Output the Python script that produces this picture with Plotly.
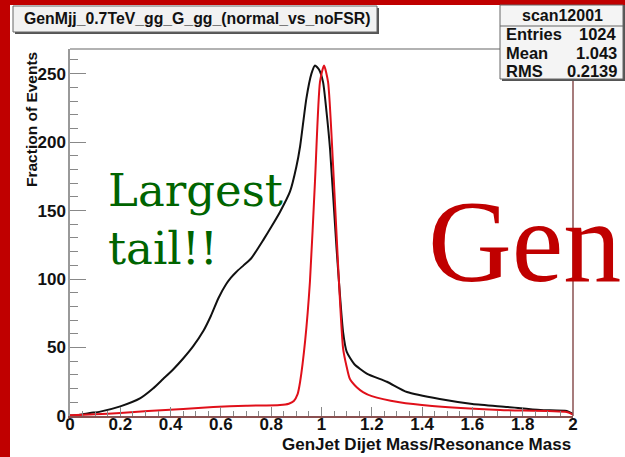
import plotly.graph_objects as go

# ---------------- data ----------------
x_normal = [0.0, 0.04, 0.08, 0.12, 0.2, 0.28, 0.33, 0.37, 0.41, 0.45, 0.49, 0.53, 0.56, 0.59,
            0.62, 0.64, 0.66, 0.69, 0.72, 0.77, 0.80, 0.835, 0.875, 0.90, 0.915, 0.94, 0.96, 0.974,
            0.99, 1.006, 1.02, 1.034, 1.06, 1.086, 1.10, 1.13, 1.18, 1.26, 1.34, 1.47, 1.6,
            1.74, 1.87, 1.975, 2.0]
y_normal = [0.3, 1.0, 2.2, 3.2, 7.0, 13, 20, 27, 34, 42, 51, 62, 73, 86,
            96, 101, 105, 110, 115, 129, 138, 149, 164, 182, 197, 232, 250, 256,
            253, 244, 222, 195, 122, 61, 47, 38, 31, 25, 17.5, 12.4, 8.8,
            6.6, 4.4, 3.6, 1.5]

x_nofsr = [0.0, 0.1, 0.2, 0.31, 0.45, 0.57, 0.7, 0.835, 0.87, 0.89, 0.905, 0.915, 0.935, 0.954,
           0.974, 0.994, 1.01, 1.026, 1.046, 1.066, 1.086, 1.10, 1.113, 1.14, 1.165, 1.2,
           1.31, 1.44, 1.71, 1.975, 2.0]
y_nofsr = [0.5, 1.2, 2.2, 3.6, 5.2, 6.6, 7.5, 8.0, 9.0, 11, 16, 25, 55, 98,
           171, 244, 256, 244, 183, 110, 49, 36, 27, 21, 17.5, 14.5,
           10, 7.3, 4.4, 2.9, 1.0]

stats_labels = ["Entries", "Mean", "RMS"]
stats_values = ["1024", "1.043", "0.2139"]
stats_title = "scan12001"
hist_title = "GenMjj_0.7TeV_gg_G_gg_(normal_vs_noFSR)"

# ---------------- layout geometry (pixels) ----------------
W, H = 625, 457
L, R, T, B = 70, 573, 49, 416


def px(x):
    return (x - L) / (R - L)


def py(y):
    return (B - y) / (B - T)


fig = go.Figure()
fig.add_trace(go.Scatter(x=x_normal, y=y_normal, mode="lines",
                         line=dict(color="#111111", width=2, shape="spline", smoothing=0.6),
                         showlegend=False, hoverinfo="skip"))
fig.add_trace(go.Scatter(x=x_nofsr, y=y_nofsr, mode="lines",
                         line=dict(color="#e0101a", width=2, shape="spline", smoothing=0.6),
                         showlegend=False, hoverinfo="skip"))

tickfont = dict(family="Liberation Sans", size=17, color="#111111", weight="bold")
fig.update_layout(
    width=W, height=H,
    margin=dict(l=L, r=W - R, t=T, b=H - B),
    paper_bgcolor="white", plot_bgcolor="white",
    xaxis=dict(range=[0, 2], dtick=0.2, tick0=0, ticks="inside", ticklen=9, tickcolor="#888888",
               showline=True, linecolor="#8a5050", linewidth=1.5, mirror=False, showgrid=False,
               zeroline=False, tickfont=tickfont, ticklabelstandoff=-8,
               minor=dict(dtick=0.05, ticks="inside", ticklen=5, tickcolor="#888888")),
    yaxis=dict(range=[0, 268], dtick=50, tick0=0, ticks="inside", ticklen=16, tickcolor="#888888",
               showline=True, linecolor="#999999", linewidth=1.5, mirror=False, showgrid=False,
               zeroline=False, tickfont=tickfont, ticklabelstandoff=-1,
               minor=dict(dtick=10, ticks="inside", ticklen=8, tickcolor="#888888")),
)

shapes = []
# top frame line and right frame line
shapes.append(dict(type="line", xref="paper", yref="paper", x0=0, x1=1, y0=1, y1=1,
                   line=dict(color="#999999", width=1.5)))
shapes.append(dict(type="line", xref="paper", yref="paper", x0=1, x1=1, y0=0, y1=1,
                   line=dict(color="#8a5050", width=1.5)))
# red page border (left strip + top strip)
shapes.append(dict(type="rect", xref="paper", yref="paper", x0=px(0), x1=px(10), y0=py(H), y1=py(0),
                   fillcolor="#c00000", line=dict(width=0), layer="above"))
shapes.append(dict(type="rect", xref="paper", yref="paper", x0=px(0), x1=px(W), y0=py(5), y1=py(0),
                   fillcolor="#c00000", line=dict(width=0), layer="above"))
# title box with shadow
shapes.append(dict(type="rect", xref="paper", yref="paper", x0=px(15), x1=px(379), y0=py(34), y1=py(8),
                   fillcolor="#555555", line=dict(width=0), layer="above"))
shapes.append(dict(type="rect", xref="paper", yref="paper", x0=px(13), x1=px(377), y0=py(32), y1=py(6),
                   fillcolor="#f2f2f2", line=dict(color="#666666", width=1), layer="above"))
# stats box with shadow
shapes.append(dict(type="rect", xref="paper", yref="paper", x0=px(502), x1=px(625), y0=py(81), y1=py(5),
                   fillcolor="#555555", line=dict(width=0), layer="above"))
shapes.append(dict(type="rect", xref="paper", yref="paper", x0=px(500), x1=px(623), y0=py(79), y1=py(5),
                   fillcolor="#f4f4f4", line=dict(color="#666666", width=1), layer="above"))
shapes.append(dict(type="line", xref="paper", yref="paper", x0=px(500), x1=px(623), y0=py(26), y1=py(26),
                   line=dict(color="#666666", width=1), layer="above"))
fig.update_layout(shapes=shapes)

ann = []
bold = dict(family="Liberation Sans", color="#111111", weight="bold")
ann.append(dict(text=hist_title, xref="paper", yref="paper", x=px(197), y=py(19),
                xanchor="center", yanchor="middle", showarrow=False,
                font=dict(size=15.8, **bold)))
ann.append(dict(text=stats_title, xref="paper", yref="paper", x=px(562), y=py(16),
                xanchor="center", yanchor="middle", showarrow=False, font=dict(size=16, **bold)))
rows_y = [34, 53, 71]
for lab, val, yy in zip(stats_labels, stats_values, rows_y):
    ann.append(dict(text=lab, xref="paper", yref="paper", x=px(504), y=py(yy),
                    xanchor="left", yanchor="middle", showarrow=False, font=dict(size=16.5, **bold)))
    ann.append(dict(text=val, xref="paper", yref="paper", x=px(619), y=py(yy),
                    xanchor="right", yanchor="middle", showarrow=False, font=dict(size=16.5, **bold)))
# axis titles
ann.append(dict(text="GenJet Dijet Mass/Resonance Mass", xref="paper", yref="paper",
                x=1, y=py(444), xanchor="right", yanchor="middle", showarrow=False,
                font=dict(size=17, **bold)))
ann.append(dict(text="Fraction of Events", xref="paper", yref="paper",
                x=px(32), y=py(120), xanchor="center", yanchor="middle", showarrow=False,
                textangle=-90, font=dict(size=15.5, **bold)))
# big annotations
ann.append(dict(text="Largest", xref="paper", yref="paper", x=px(106), y=py(219),
                xanchor="left", yanchor="bottom", showarrow=False,
                font=dict(family="DejaVu Serif", size=45, color="#006400")))
ann.append(dict(text="tail!!", xref="paper", yref="paper", x=px(106), y=py(277),
                xanchor="left", yanchor="bottom", showarrow=False,
                font=dict(family="DejaVu Serif", size=45, color="#006400")))
ann.append(dict(text="Gen", xref="paper", yref="paper", x=px(426), y=py(308),
                xanchor="left", yanchor="bottom", showarrow=False,
                font=dict(family="Liberation Serif", size=116, color="#c00000")))
fig.update_layout(annotations=ann)

fig.write_html("out.html")
